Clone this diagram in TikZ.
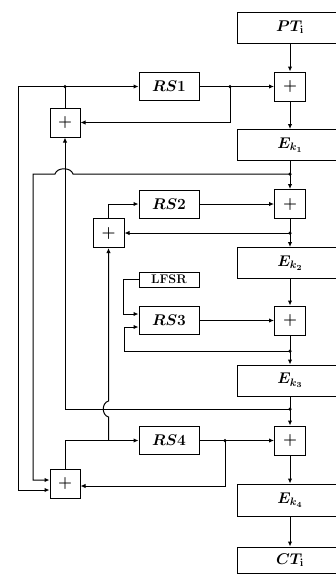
\RequirePackage{fix-cm}
\documentclass[tikz,border=0pt]{standalone}
\usetikzlibrary{arrows.meta}
\begin{document}
\begin{tikzpicture}[x=1pt,y=-1pt,
  every node/.style={draw,line width=1pt,inner sep=0pt,font=\fontsize{15.5}{19}\selectfont\boldmath},
  bigbox/.style={minimum width=106pt,minimum height=31pt},
  xorbox/.style={minimum width=31pt,minimum height=29pt,font=\fontsize{16}{20}\selectfont\boldmath},
  rsbox/.style={minimum width=60pt,minimum height=28pt},
  lfsrbox/.style={minimum width=60pt,minimum height=15pt,font=\fontsize{12.5}{14}\selectfont\bfseries},
  conn/.style={line width=1pt},
  arr/.style={conn,-{Latex[length=5pt,width=4.5pt]}},
  dot/.style={fill,circle,inner sep=0pt,minimum size=3.5pt,draw=none}
]
\useasboundingbox (0,0) rectangle (336,574);
% main column
\node[bigbox] (PT) at (290,27.5) {$PT_{\mathbf{i}}$};
\node[xorbox] (p1) at (290,86.5) {$+$};
\node[bigbox] (E1) at (290,145) {$E_{k_1}$};
\node[xorbox] (p2) at (290,204) {$+$};
\node[bigbox] (E2) at (290,263) {$E_{k_2}$};
\node[xorbox] (p3) at (290,320.5) {$+$};
\node[bigbox] (E3) at (290,380.5) {$E_{k_3}$};
\node[xorbox] (p4) at (290,440.5) {$+$};
\node[bigbox,minimum height=32pt] (E4) at (290,500) {$E_{k_4}$};
\node[bigbox,minimum height=26pt] (CT) at (290,560) {$CT_{\mathbf{i}}$};
% registers
\node[rsbox] (RS1) at (169,86.5) {$RS1$};
\node[rsbox] (RS2) at (169,204) {$RS2$};
\node[lfsrbox] (LFSR) at (169,279.5) {LFSR};
\node[rsbox] (RS3) at (169,320.5) {$RS3$};
\node[rsbox] (RS4) at (169,440.5) {$RS4$};
% side xors
\node[xorbox,minimum width=30pt] (pA) at (65,122.5) {$+$};
\node[xorbox] (pC) at (108.5,233) {$+$};
\node[xorbox,minimum width=30pt] (pB) at (65,483.5) {$+$};
% junctions
\coordinate (j1) at (230,86.5);
\coordinate (jA) at (65,86.5);
\coordinate (d174) at (290,174);
\coordinate (d233) at (290,233);
\coordinate (d351) at (290,351);
\coordinate (d409) at (290,409);
\coordinate (j4) at (225,440.5);
\coordinate (jC) at (108.5,440.5);
% main chain
\draw[arr] (PT) -- (p1);
\draw[arr] (p1) -- (E1);
\draw[arr] (E1) -- (p2);
\draw[arr] (p2) -- (E2);
\draw[arr] (E2) -- (p3);
\draw[arr] (p3) -- (E3);
\draw[arr] (E3) -- (p4);
\draw[arr] (p4) -- (E4);
\draw[arr] (E4) -- (CT);
% stage 1
\draw[arr] (RS1) -- (p1);
\draw[arr] (j1) |- (pA);
\draw[arr] (pA.north) |- (RS1);
\draw[arr] (jA) -| ([xshift=-31pt,yshift=-6.5pt]pB.west) -- ([yshift=-6.5pt]pB.west);
\draw[arr] (d174) -- (73,174) .. controls (71,167) and (57,167) .. (55,174) -- (33,174) -- (33,480) -- ([yshift=3.5pt]pB.west);
\draw[arr] (d409) -| (pA.south);
% stage 2
\draw[arr] (pB.north) |- (RS4);
\draw[arr] (jC) -- (108.5,417) .. controls (101.5,415) and (101.5,403) .. (108.5,401) -- (pC.south);
\draw[arr] (pC.north) |- (RS2);
\draw[arr] (RS2) -- (p2);
\draw[arr] (d233) -- (pC);
% stage 3
\draw[arr] (LFSR.west) -- ++(-15,0) |- ([yshift=6.5pt]RS3.west);
\draw[arr] (d351) -- (124,351) |- ([yshift=-6.5pt]RS3.west);
\draw[arr] (RS3) -- (p3);
% stage 4
\draw[arr] (RS4) -- (p4);
\draw[arr] (j4) |- ([yshift=-2.5pt]pB.east);
% dots
\foreach \c in {j1,jA,d174,d233,d351,d409,j4} \node[dot] at (\c) {};
\end{tikzpicture}
\end{document}
